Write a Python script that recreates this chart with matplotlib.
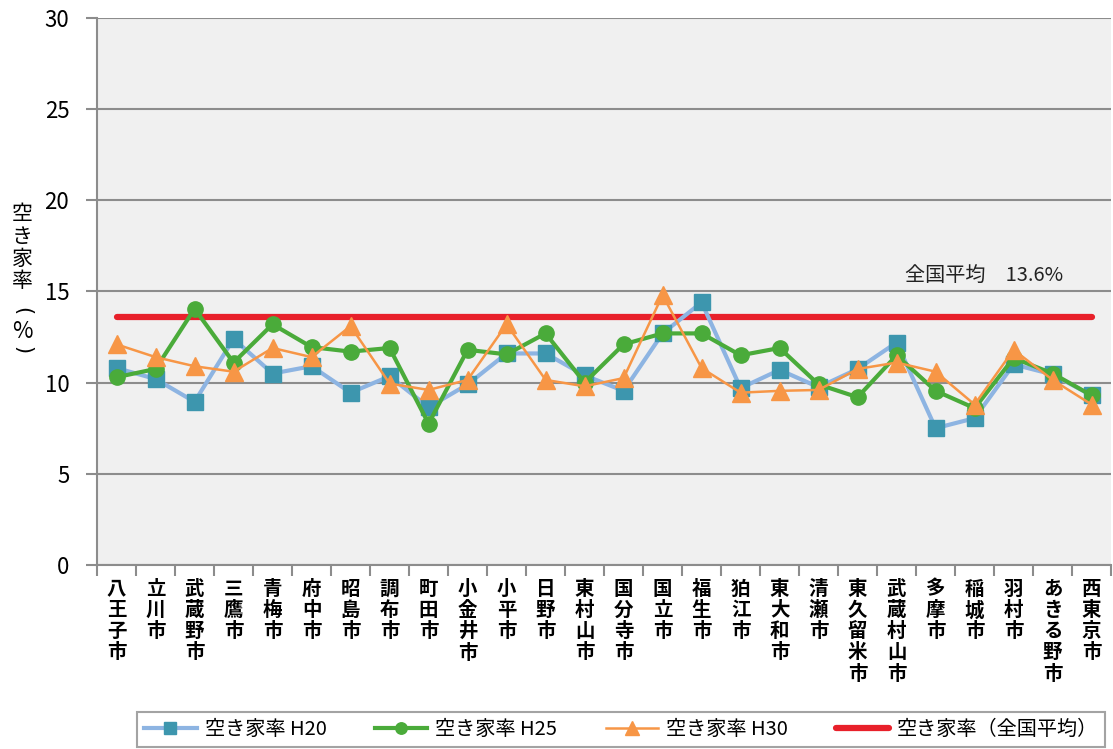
import numpy as np
import matplotlib
matplotlib.use("Agg")
import matplotlib.pyplot as plt

plt.rcParams['font.family'] = ['Noto Sans CJK JP', 'DejaVu Sans']

# 市区名
cities = ['八王子市', '立川市', '武蔵野市', '三鷹市', '青梅市', '府中市', '昭島市', '調布市',
          '町田市', '小金井市', '小平市', '日野市', '東村山市', '国分寺市', '国立市', '福生市',
          '狛江市', '東大和市', '清瀬市', '東久留米市', '武蔵村山市', '多摩市', '稲城市',
          '羽村市', 'あきる野市', '西東京市']

# 空き家率 (%)
h20 = [10.8, 10.2, 8.95, 12.4, 10.5, 10.9, 9.45, 10.35, 8.65, 9.9, 11.6, 11.6, 10.4,
       9.55, 12.7, 14.4, 9.7, 10.7, 9.75, 10.75, 12.2, 7.5, 8.05, 11.0, 10.45, 9.3]
h25 = [10.3, 10.75, 14.05, 11.1, 13.2, 11.95, 11.7, 11.9, 7.75, 11.8, 11.55, 12.7, 10.0,
       12.1, 12.7, 12.7, 11.5, 11.9, 9.9, 9.2, 11.5, 9.55, 8.6, 11.35, 10.5, 9.3]
h30 = [12.1, 11.4, 10.9, 10.6, 11.9, 11.4, 13.1, 9.95, 9.6, 10.15, 13.2, 10.15, 9.8,
       10.25, 14.8, 10.8, 9.45, 9.55, 9.6, 10.75, 11.1, 10.6, 8.8, 11.8, 10.15, 8.8]
national_avg = 13.6

x = np.arange(len(cities))

fig = plt.figure(figsize=(11.13, 7.49), dpi=100)
ax = fig.add_axes([0.0872, 0.2457, 0.9111, 0.7303])
ax.set_facecolor('#f0f0f0')

ax.plot(x, h20, color='#8db4e2', lw=3, marker='s', ms=11,
        mfc='#3d96ae', mec='#3d96ae', label='空き家率 H20', zorder=3)
ax.plot(x, h25, color='#4aab3a', lw=3, marker='o', ms=11,
        mfc='#4aab3a', mec='#4aab3a', label='空き家率 H25', zorder=4)
ax.plot(x, h30, color='#f79646', lw=1.8, marker='^', ms=13,
        mfc='#f79646', mec='#f79646', label='空き家率 H30', zorder=5)
ax.plot(x, [national_avg] * len(x), color='#e8202a', lw=4.5,
        solid_capstyle='round', label='空き家率（全国平均）', zorder=2)

ax.text(22.23, 15.9, '全国平均　13.6%', fontsize=14.5, ha='center', va='center', color='#222222')

ax.set_xlim(-0.5, len(cities) - 0.5)
ax.set_ylim(0, 30)
ax.set_yticks(range(0, 31, 5))
ax.yaxis.grid(True, color='#8c8c8c', lw=1.5)
ax.set_axisbelow(True)
for s in ['top', 'right']:
    ax.spines[s].set_visible(False)
ax.spines['left'].set_color('#8c8c8c')
ax.spines['left'].set_linewidth(1.5)
ax.spines['bottom'].set_color('#8c8c8c')
ax.spines['bottom'].set_linewidth(1.5)
ax.tick_params(axis='y', length=8, width=1.5, color='#8c8c8c', labelsize=16, pad=12)

ax.set_xticks(np.arange(-0.5, len(cities), 1.0))
ax.set_xticklabels([])
ax.tick_params(axis='x', length=8, width=1.5, color='#8c8c8c')

for i, name in enumerate(cities):
    ax.text(i, -0.8, '\n'.join(name), ha='center', va='top', fontsize=14,
            fontweight='bold', linespacing=1.15)

# 縦書きの軸ラベル
fig.text(0.020, 0.669, '\n'.join('空き家率'), ha='center', va='center',
         fontsize=15, linespacing=1.02)
fig.text(0.020, 0.585, '(', ha='center', va='center', fontsize=15,
         rotation=-90, family='DejaVu Sans')
fig.text(0.020, 0.557, '%', ha='center', va='center', fontsize=16)
fig.text(0.020, 0.532, ')', ha='center', va='center', fontsize=15,
         rotation=-90, family='DejaVu Sans')

leg = fig.legend(loc='center', bbox_to_anchor=(0.558, 0.026), ncol=4, fontsize=14.5,
                 frameon=True, fancybox=False, edgecolor='#8c8c8c', handlelength=2.6,
                 columnspacing=2.4, borderpad=0.35, markerscale=0.75, handletextpad=0.4)
leg.get_frame().set_linewidth(1.5)

fig.savefig('out.png', dpi=100)
